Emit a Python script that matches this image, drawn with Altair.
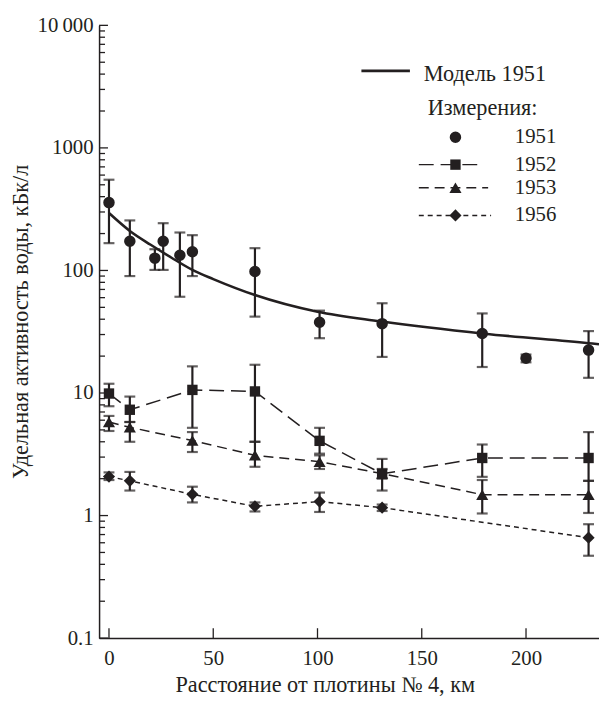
import altair as alt
import pandas as pd

INK = "#231f20"
FONT = "Liberation Serif"

# ---------------- data ----------------
model_dist = [0, 10, 20, 30, 40, 50, 70, 100, 130, 180, 230, 235]
model_val = [294, 210, 162, 127, 101, 85, 63, 46, 38.5, 30.5, 25.5, 25]

dist_1951 = [0, 10, 22, 26, 34, 40, 70, 101, 131, 179, 200, 230]
val_1951 = [358, 173, 126, 173, 133, 142, 98, 37.8, 36.8, 30.6, 19.2, 22.4]
lo_1951 = [167, 90, 101, 101, 61, 90, 42, 28, 19.7, 16.3, 17.8, 13.3]
hi_1951 = [550, 256, 149, 243, 204, 194, 152, 47, 54, 44.6, 20.6, 32]

dist_1952 = [0, 10, 40, 70, 101, 131, 179, 230]
val_1952 = [9.9, 7.3, 10.6, 10.3, 4.07, 2.19, 2.95, 2.95]
lo_1952 = [7.8, 5.8, 5.2, 4.0, 3.2, 1.6, 2.07, 1.92]
hi_1952 = [11.9, 9.35, 16.5, 17, 5.2, 2.9, 3.8, 4.8]

dist_1953 = [0, 10, 40, 70, 101, 131, 179, 230]
val_1953 = [5.8, 5.25, 4.1, 3.1, 2.75, 2.2, 1.48, 1.48]
lo_1953 = [4.9, 4.0, 3.3, 2.5, 2.4, 2.0, 1.04, 1.05]
hi_1953 = [6.5, 5.8, 4.8, 4.0, 3.1, 2.4, 1.95, 1.92]

dist_1956 = [0, 10, 40, 70, 101, 131, 230]
val_1956 = [2.08, 1.92, 1.49, 1.19, 1.3, 1.16, 0.66]
lo_1956 = [1.95, 1.6, 1.28, 1.08, 1.07, 1.09, 0.47]
hi_1956 = [2.25, 2.27, 1.72, 1.28, 1.54, 1.23, 0.85]

x_ticks = [0, 50, 100, 150, 200]
y_ticks = [0.1, 1, 10, 100, 1000, 10000]
y_tick_labels = ["0.1", "1", "10", "100", "1000", "10\u2009000"]
minor_mult = [2, 3, 4, 5, 6, 7, 8, 9]

x_title = "Расстояние от плотины № 4, км"
y_title = "Удельная активность воды, кБк/л"
legend_model = "Модель 1951"
legend_meas = "Измерения:"
years = ["1951", "1952", "1953", "1956"]

# ---------------- tables ----------------
series = {
    "1951": (dist_1951, val_1951, lo_1951, hi_1951),
    "1952": (dist_1952, val_1952, lo_1952, hi_1952),
    "1953": (dist_1953, val_1953, lo_1953, hi_1953),
    "1956": (dist_1956, val_1956, lo_1956, hi_1956),
}
frames = {}
for k, (d, v, lo, hi) in series.items():
    frames[k] = pd.DataFrame({"dist": d, "val": v, "lo": lo, "hi": hi})
model_df = pd.DataFrame({"dist": model_dist, "val": model_val})
xt_df = pd.DataFrame({"dist": x_ticks})
yt_df = pd.DataFrame({"val": y_ticks})
minor_vals = [m * t for t in y_ticks[:-1] for m in minor_mult]
ym_df = pd.DataFrame({"val": minor_vals})

W, H = 505, 619
FS = 21      # digits
FS_T = 22.5  # axis titles
FS_L = 22.5  # legend words

x_scale = alt.Scale(domain=[-4.75, 235], nice=False, zero=False)
y_scale = alt.Scale(type="log", domain=[0.1, 10000], nice=False)

label_expr = " : ".join(
    f"abs(datum.value - {v}) < {v}*0.01 ? '{s}'" for v, s in zip(y_ticks, y_tick_labels)
) + " : ''"

x_axis = alt.Axis(
    values=x_ticks, ticks=False, grid=False, domainColor=INK, domainWidth=1.5,
    labelFont=FONT, labelFontSize=FS, labelColor=INK, labelPadding=10,
    title=x_title, titleFont=FONT, titleFontSize=FS_T, titleFontWeight="normal",
    titleColor=INK, titleX=228, titleY=47, titleBaseline="middle", titleAlign="center",
)
y_axis = alt.Axis(
    values=y_ticks, ticks=False, grid=False, domainColor=INK, domainWidth=1.5,
    labelFont=FONT, labelFontSize=FS, labelColor=INK, labelPadding=6,
    labelExpr=label_expr, labelBaseline="middle",
    title=y_title, titleFont=FONT, titleFontSize=FS_T, titleFontWeight="normal",
    titleColor=INK, titleX=-79, titleY=299, titleBaseline="middle", titleAlign="center",
    titleAngle=270,
)


def X(f="dist"):
    return alt.X(f"{f}:Q", scale=x_scale, axis=x_axis)


def Y(f="val"):
    return alt.Y(f"{f}:Q", scale=y_scale, axis=y_axis)


layers = []

# inward ticks
layers.append(alt.Chart(xt_df).mark_rule(color=INK, strokeWidth=1.3).encode(
    x=X(), y=alt.value(H), y2=alt.value(H - 10)))
layers.append(alt.Chart(yt_df).mark_rule(color=INK, strokeWidth=1.3).encode(
    y=Y(), x=alt.value(0), x2=alt.value(9)))
layers.append(alt.Chart(ym_df).mark_rule(color=INK, strokeWidth=1.3).encode(
    y=Y(), x=alt.value(0), x2=alt.value(6)))

# model curve
layers.append(alt.Chart(model_df).mark_line(
    color=INK, strokeWidth=2.6, interpolate="monotone").encode(x=X(), y=Y()))

dashes = {"1952": [15, 7], "1953": [10, 6], "1956": [5, 4]}
shapes = {"1951": ("circle", 135), "1952": ("square", 110),
          "1953": ("triangle-up", 150), "1956": ("diamond", 150)}

for k, df in frames.items():
    base = alt.Chart(df)
    if k in dashes:
        layers.append(base.mark_line(color=INK, strokeWidth=1.5, strokeDash=dashes[k]).encode(
            x=X(), y=Y()))
    layers.append(base.mark_rule(color=INK, strokeWidth=2.2).encode(
        x=X(), y=Y("lo"), y2="hi:Q"))
    layers.append(base.mark_tick(color=INK, orient="horizontal", size=11, thickness=2.2).encode(
        x=X(), y=Y("lo")))
    layers.append(base.mark_tick(color=INK, orient="horizontal", size=11, thickness=2.2).encode(
        x=X(), y=Y("hi")))
    shp, sz = shapes[k]
    layers.append(base.mark_point(shape=shp, size=sz, filled=True, color=INK, opacity=1).encode(
        x=X(), y=Y()))

# ---------------- legend ----------------
one = pd.DataFrame({"a": [0]})


def txt(s, x, y, fs):
    return alt.Chart(pd.DataFrame({"t": [s]})).mark_text(
        align="left", baseline="middle", font=FONT, fontSize=fs, color=INK
    ).encode(text="t:N", x=alt.value(x), y=alt.value(y))


layers.append(alt.Chart(one).mark_rule(color=INK, strokeWidth=2.6).encode(
    x=alt.value(265), x2=alt.value(314), y=alt.value(46)))
layers.append(txt(legend_model, 328, 49, FS_L))
layers.append(txt(legend_meas, 332, 84, FS_L))

rows_y = {"1951": 113, "1952": 140.7, "1953": 164, "1956": 192}
line_ext = {"1952": (323, 389), "1953": (323, 393), "1956": (323, 396)}
for k in years:
    yy = rows_y[k]
    if k in line_ext:
        a, b = line_ext[k]
        layers.append(alt.Chart(one).mark_rule(
            color=INK, strokeWidth=1.5, strokeDash=dashes[k]).encode(
            x=alt.value(a), x2=alt.value(b), y=alt.value(yy)))
    shp, sz = shapes[k]
    layers.append(alt.Chart(one).mark_point(
        shape=shp, size=sz, filled=True, color=INK, opacity=1).encode(
        x=alt.value(360), y=alt.value(yy)))
    layers.append(txt(k, 420, yy, FS))

chart = alt.layer(*layers).properties(
    width=W, height=H,
    autosize=alt.AutoSizeParams(type="none"),
    padding={"left": 92, "top": 14, "right": 0, "bottom": 60},
    background="white",
).configure_view(stroke=None)

chart.save("out.html", embed_options={"renderer": "svg", "actions": False})
